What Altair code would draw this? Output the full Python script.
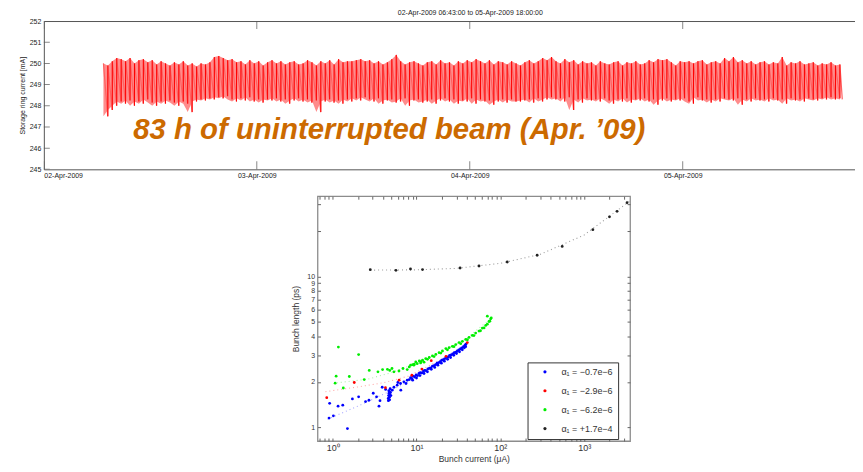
import altair as alt
import pandas as pd

FONT = "Liberation Sans"

# ---------------- top panel: storage ring current ----------------
top_title = "02-Apr-2009 06:43:00 to 05-Apr-2009 18:00:00"
top_y_title = "Storage ring current [mA]"
run_start = "2009-04-02 06:43:00"
run_end = "2009-04-05 18:00:00"
sample_step = "30min"

peak_mA = [
    250.0, 249.9, 250.1, 250.25, 250.2, 250.1, 250.25, 250.0, 250.15, 250.2,
    250.05, 250.15, 249.95, 250.1, 250.0, 249.9, 250.05, 249.95, 250.1, 249.9,
    250.0, 249.85, 250.0, 249.95, 250.05, 250.3, 250.35, 250.25, 250.15, 250.2,
    250.05, 250.1, 249.95, 250.15, 250.0, 250.1, 249.9, 250.05, 250.15, 250.0,
    250.1, 249.95, 250.05, 250.1, 249.95, 250.0, 250.15, 250.05, 249.9, 250.1,
    250.0, 250.15, 249.95, 250.2, 250.05, 250.1, 250.1, 250.15, 250.2, 250.1,
    250.15, 250.0, 250.1, 249.95, 250.05, 250.2, 250.4, 250.1, 249.95, 250.05,
    250.1, 250.0, 249.9, 250.05, 250.1, 249.95, 250.15, 250.0, 250.05, 249.9,
    250.1, 250.0, 250.15, 250.05, 250.2, 250.1, 250.0, 250.15, 249.95, 250.1,
    250.05, 249.95, 250.1, 250.0, 249.9, 250.05, 250.15, 250.0, 250.1, 250.25,
    250.15, 250.3, 250.1, 250.0, 250.2, 250.05, 250.15, 249.95, 250.1, 250.0,
    250.05, 249.9, 250.1, 250.0, 249.95, 250.05, 250.1, 249.9, 250.05, 250.0,
    250.1, 249.95, 250.0, 250.15, 250.05, 250.2, 250.15, 250.2, 250.05, 249.9,
    250.1, 250.05, 250.1, 250.0, 250.1, 250.15, 249.95, 250.05, 250.1, 250.0,
    250.25, 250.1, 250.3, 250.05, 250.15, 250.0, 250.1, 249.95, 250.05, 250.1,
    249.95, 250.05, 250.0, 250.3, 249.9, 250.05, 250.0, 250.1, 249.95, 250.0,
    250.05, 249.9, 250.0, 249.95, 250.05, 249.9, 249.95,
]
trough_mA = [
    247.5, 247.8, 248.0, 248.2, 248.1, 248.25, 248.0, 248.2, 248.1, 248.3,
    248.15, 248.0, 248.2, 248.1, 248.25, 248.15, 248.0, 248.2, 248.1, 247.7,
    248.2, 248.3, 248.25, 248.35, 248.3, 248.4, 248.35, 248.45, 248.3, 248.2,
    248.35, 248.25, 248.4, 248.2, 248.3, 248.15, 248.3, 248.25, 248.35, 248.2,
    248.3, 248.1, 248.25, 248.35, 248.2, 248.3, 248.15, 248.25, 247.7, 248.2,
    248.3, 248.15, 248.25, 248.1, 248.3, 248.2, 248.35, 248.25, 248.4, 248.3,
    248.2, 248.35, 248.1, 248.25, 248.3, 248.15, 248.2, 248.35, 248.0, 248.25,
    248.3, 248.15, 248.2, 248.3, 248.1, 248.25, 248.35, 248.2, 248.3, 248.1,
    248.25, 248.2, 248.35, 248.1, 248.3, 248.2, 248.25, 248.05, 248.2, 248.3,
    248.15, 248.3, 248.2, 248.2, 248.25, 248.3, 248.15, 248.35, 248.2, 248.3,
    248.4, 248.3, 248.35, 248.2, 248.4, 247.8, 248.3, 248.15, 248.35, 248.25,
    248.3, 248.2, 248.35, 248.25, 248.1, 248.3, 248.2, 248.35, 248.15, 248.3,
    248.25, 248.35, 248.2, 248.3, 248.05, 248.25, 248.35, 248.2, 248.3, 248.25,
    248.35, 248.2, 248.1, 248.4, 248.25, 248.3, 248.15, 248.3, 248.2, 248.35,
    248.3, 248.25, 248.35, 248.05, 248.3, 248.2, 248.35, 248.25, 248.3, 248.2,
    248.35, 248.25, 248.3, 248.1, 248.35, 248.25, 248.3, 248.2, 248.35, 248.3,
    248.25, 248.35, 248.3, 248.4, 248.3, 248.35, 248.3,
]

day_ticks = ["2009-04-02 00:00", "2009-04-03 00:00", "2009-04-04 00:00", "2009-04-05 00:00"]
axis_start = "2009-04-02 00:00"
axis_end = "2009-04-05 19:25"
mA_ticks = [245, 246, 247, 248, 249, 250, 251, 252]
note_text = "83 h of uninterrupted beam (Apr. \u201909)"
note_time = "2009-04-02 10:04"
note_mA = 246.41

# ---------------- bottom panel: bunch length vs current ----------------
series_labels = ["\u03b1\u2081 = \u22120.7e\u22126", "\u03b1\u2081 = \u22122.9e\u22126",
                 "\u03b1\u2081 = \u22126.2e\u22126", "\u03b1\u2081 = +1.7e\u22124"]
series_colors = ["#0000ff", "#ff0000", "#00ee00", "#222222"]
fit_colors = ["#a8a8ff", "#ffa8a8", "#a8f0a8", "#9a9a9a"]

blue_x = [0.92, 0.906, 1.02, 1.16, 1.32, 1.50, 1.72, 2.04, 2.47, 2.71, 3.05, 3.34, 3.57, 3.67, 3.90, 4.28,
          4.60, 4.65, 4.70, 4.72, 4.75, 4.80, 4.68, 4.85, 4.62, 4.90, 4.78, 4.95,
          5.13, 5.38, 5.88, 6.0, 6.45, 6.5, 7.07, 7.5, 7.75,
          8.2, 8.5, 8.8, 9.1, 9.5, 9.9, 10.3, 10.7, 11.1, 11.6, 12.1, 12.6, 13.1, 13.7, 14.3, 14.9,
          15.5, 16.2, 16.9, 17.6, 18.4, 19.2, 20.0, 20.9, 21.8, 22.8, 23.8, 24.8, 25.9, 27.0, 28.2,
          29.4, 30.7, 32.0, 33.4, 34.8, 36.3, 37.8, 38.8,
          9.0, 10.0, 11.0, 12.3, 13.5, 15.0, 16.5, 18.0, 19.8, 21.5, 23.5, 25.5, 27.8, 30.0, 32.6,
          35.2, 37.2, 38.6]
blue_y = [1.44, 1.15, 1.19, 1.38, 1.40, 0.98, 1.54, 1.59, 1.48, 1.51, 1.68, 1.59, 1.38, 1.50, 1.84, 1.78,
          1.55, 1.62, 1.68, 1.72, 1.58, 1.65, 1.75, 1.80, 1.50, 1.70, 1.52, 1.62,
          1.76, 1.84, 1.90, 1.98, 1.95, 1.76, 2.0, 1.95, 2.05,
          2.07, 2.13, 2.10, 2.18, 2.16, 2.22, 2.20, 2.27, 2.30, 2.29, 2.36, 2.38, 2.37, 2.44, 2.46, 2.47,
          2.54, 2.56, 2.60, 2.66, 2.68, 2.72, 2.78, 2.80, 2.85, 2.90, 2.92, 2.99, 3.02, 3.06, 3.12,
          3.14, 3.20, 3.25, 3.30, 3.36, 3.42, 3.48, 3.55,
          2.05, 2.12, 2.2, 2.27, 2.33, 2.42, 2.49, 2.58, 2.66, 2.74, 2.82, 2.9, 3.0, 3.08, 3.16,
          3.26, 3.36, 3.42]
red_x = [0.85, 1.81, 4.26, 6.2, 8.8, 11.6, 15.0, 22.5, 40.4]
red_y = [1.57, 1.98, 1.83, 2.05, 2.21, 2.43, 2.76, 2.95, 3.64]
green_x = [1.17, 2.04, 1.10, 1.07, 1.34, 1.58, 2.38, 2.73, 3.47, 3.94, 4.5, 4.8, 5.1, 5.38, 6.18, 6.9, 7.75,
           8.2, 8.5, 9.0, 9.3, 9.8, 10.2, 10.8, 11.2, 11.8, 12.3, 12.9, 14.2, 15.5, 17.0, 18.6, 20.4,
           22.4, 24.5, 26.8, 29.4, 32.2, 35.3, 38.7, 42.4, 46.4, 50.8, 55.7, 61.1, 67.0, 73.3, 76.8, 70.0,
           9.4, 11.3, 13.5, 16.2, 19.5, 23.4, 28.0, 33.7, 40.5, 48.5, 58.0, 64.0, 70.0, 75.0, 78.0]
green_y = [3.40, 3.03, 2.18, 1.96, 1.82, 2.17, 2.07, 2.38, 2.33, 2.41, 2.42, 2.38, 2.45, 2.33, 2.36, 2.45, 2.41,
           2.51, 2.58, 2.60, 2.58, 2.71, 2.64, 2.75, 2.67, 2.78, 2.70, 2.85, 2.90, 2.97, 3.04, 3.12, 3.20,
           3.32, 3.37, 3.44, 3.53, 3.64, 3.71, 3.82, 3.94, 4.06, 4.21, 4.34, 4.54, 4.73, 5.02, 5.23, 5.45,
           2.62, 2.72, 2.82, 2.94, 3.10, 3.26, 3.42, 3.58, 3.80, 4.05, 4.36, 4.55, 4.82, 5.05, 5.30]
black_x = [2.81, 5.69, 8.48, 11.8, 33.1, 55.7, 121, 275, 547, 1270, 2005, 2470, 3250]
black_y = [11.07, 10.96, 11.19, 11.1, 11.36, 11.72, 12.45, 13.8, 15.8, 20.4, 24.8, 27.0, 30.8]

blue_fit_x = [0.87, 2, 5, 10, 20, 38]
blue_fit_y = [1.13, 1.38, 1.75, 2.15, 2.72, 3.45]
red_fit_x = [0.82, 2, 4, 8, 15, 25, 40]
red_fit_y = [1.72, 1.85, 1.97, 2.18, 2.6, 3.0, 3.6]
green_fit_x = [1.12, 2.6, 5, 10, 20, 40, 77]
green_fit_y = [1.97, 2.08, 2.3, 2.65, 3.15, 3.9, 5.25]
black_fit_x = [2.8, 10, 30, 100, 300, 1000, 3500]
black_fit_y = [11.0, 11.05, 11.3, 12.2, 14.0, 18.8, 31.5]

x_domain = [0.66, 3530]
y_domain = [0.81, 34]
x_tick_values = [0.7, 0.8, 0.9, 1, 2, 3, 4, 5, 6, 7, 8, 9, 10, 20, 30, 40, 50, 60, 70, 80, 90,
                 100, 200, 300, 400, 500, 600, 700, 800, 900, 1000, 2000, 3000]
x_label_values = [1, 10, 100, 1000]
x_label_texts = ["10\u2070", "10\u00b9", "10\u00b2", "10\u00b3"]
y_tick_values = [1, 2, 3, 4, 5, 6, 7, 8, 9, 10, 20, 30]
y_label_max = 10
x_title = "Bunch current (\u03bcA)"
y_title = "Bunch length (ps)"


# ---------------- build tables ----------------
def iso(ts):
    return pd.Timestamp(ts).strftime("%Y-%m-%dT%H:%M:%SZ")


def dt(s):
    t = pd.Timestamp(s)
    return alt.DateTime(year=t.year, month=t.month, date=t.day, hours=t.hour, minutes=t.minute, utc=True)


n = min(len(peak_mA), len(trough_mA))
times = pd.date_range(run_start, periods=n, freq=sample_step)
end_t = pd.Timestamp(run_end)
saw_rows, jump_rows, band_rows = [], [], []
for i in range(n):
    t0 = times[i]
    t1 = times[i + 1] if i + 1 < n else end_t
    saw_rows.append({"t": iso(t0), "mA": peak_mA[i], "k": 2 * i})
    saw_rows.append({"t": iso(t1 - pd.Timedelta(minutes=1)), "mA": trough_mA[i], "k": 2 * i + 1})
    band_rows.append({"t": iso(t0), "lo": trough_mA[i], "hi": peak_mA[i]})
    if i > 0:
        jump_rows.append({"t": iso(t0), "lo": trough_mA[i - 1], "hi": peak_mA[i]})
saw_df = pd.DataFrame(saw_rows)
jump_df = pd.DataFrame(jump_rows)
band_df = pd.DataFrame(band_rows)
note_df = pd.DataFrame({"t": [iso(note_time)], "v": [note_mA], "label": [note_text]})
xtick_df = pd.DataFrame([{"d": iso(d), "v": v} for d in day_ticks for v in (mA_ticks[0], mA_ticks[-1])])
ytick_df = pd.DataFrame({"d": [iso(axis_start)] * len(mA_ticks), "v": mA_ticks})

x_scale_top = alt.Scale(type="utc", domain=[dt(axis_start), dt(axis_end)], nice=False)
y_scale_top = alt.Scale(domain=[mA_ticks[0], mA_ticks[-1]], nice=False)

x_axis_bottom = alt.Axis(values=[dt(d) for d in day_ticks], format="%d-%b-%Y", tickSize=0,
                         labelFontSize=7, labelPadding=2, labelColor="#222", domainColor="#555",
                         title=None, grid=False, labelFont=FONT)
x_axis_top = alt.Axis(orient="top", labels=False, ticks=False, domain=True, domainColor="#555",
                      title=None, grid=False)
y_axis_top = alt.Axis(title=top_y_title, values=mA_ticks, format="d", tickSize=0, labelFontSize=7,
                      titleFontSize=7, labelPadding=3, titlePadding=4, labelColor="#222",
                      titleColor="#222", titleFontWeight="normal", domainColor="#555", grid=False,
                      labelFont=FONT, titleFont=FONT)

band = alt.Chart(band_df).mark_area(color="#ff8c8c", opacity=1, clip=True).encode(
    x=alt.X("t:T", scale=x_scale_top, axis=x_axis_bottom),
    y=alt.Y("lo:Q", scale=y_scale_top, axis=y_axis_top),
    y2="hi:Q",
)
saw = alt.Chart(saw_df).mark_line(color="#ff6060", strokeWidth=1.2, clip=True).encode(
    x=alt.X("t:T", axis=None),
    y=alt.Y("mA:Q", axis=y_axis_top),
    order="k:Q",
)
jumps = alt.Chart(jump_df).mark_rule(color="#ff0000", strokeWidth=1).encode(
    x=alt.X("t:T", axis=None),
    y=alt.Y("lo:Q", axis=y_axis_top),
    y2="hi:Q",
)
note = alt.Chart(note_df).mark_text(font=FONT, fontSize=29.5, fontWeight="bold", fontStyle="italic",
                                    color="#cc6a00", align="left", baseline="alphabetic").encode(
    x=alt.X("t:T", axis=None),
    y=alt.Y("v:Q", axis=y_axis_top),
    text="label:N",
)
xticks = alt.Chart(xtick_df).mark_tick(orient="vertical", size=16, thickness=1, color="#555", clip=True).encode(
    x=alt.X("d:T", axis=x_axis_top),
    y=alt.Y("v:Q", axis=y_axis_top),
)
yticks = alt.Chart(ytick_df).mark_tick(orient="horizontal", size=12, thickness=1, color="#555", clip=True).encode(
    x=alt.X("d:T", axis=None),
    y=alt.Y("v:Q", axis=y_axis_top),
)

top = alt.layer(band, saw, jumps, note, xticks, yticks).resolve_axis(x="independent").properties(
    width=815, height=149,
    view=alt.ViewBackground(stroke=None),
    title=alt.TitleParams(top_title, fontSize=7, font=FONT, fontWeight="normal", color="#222",
                          offset=1, dx=21, anchor="middle"),
)

# scatter tables
pts = []
for lab, xs_, ys_ in zip(series_labels, [blue_x, red_x, green_x, black_x], [blue_y, red_y, green_y, black_y]):
    for a, b in zip(xs_, ys_):
        pts.append({"x": a, "y": b, "series": lab})
pts_df = pd.DataFrame(pts)
fits = []
for lab, lc, xs_, ys_ in zip(series_labels, fit_colors,
                             [blue_fit_x, red_fit_x, green_fit_x, black_fit_x],
                             [blue_fit_y, red_fit_y, green_fit_y, black_fit_y]):
    for a, b in zip(xs_, ys_):
        fits.append({"x": a, "y": b, "series": lab, "lc": lc})
fit_df = pd.DataFrame(fits)

x_label_expr = " : ".join(f"datum.value == {v} ? '{t}'" for v, t in zip(x_label_values, x_label_texts)) + " : ''"
y_label_expr = f"datum.value <= {y_label_max} ? datum.label : ''"

xs = alt.Scale(type="log", domain=x_domain, nice=False)
ys = alt.Scale(type="log", domain=y_domain, nice=False)

common_axis = dict(offset=-3, tickSize=3, domain=False, grid=False, tickColor="#666",
                   labelColor="#333", titleColor="#333", labelOverlap=False, labelFlush=False,
                   titleFontWeight="normal", labelFont=FONT, titleFont=FONT)
x_axis_b = alt.Axis(values=x_tick_values, labelExpr=x_label_expr, title=x_title, labelFontSize=9,
                    titleFontSize=8.5, labelPadding=3, titlePadding=2, **common_axis)
y_axis_l = alt.Axis(values=y_tick_values, labelExpr=y_label_expr, format="d", title=y_title,
                    labelFontSize=7, titleFontSize=8.5, labelPadding=3, titlePadding=6, **common_axis)
x_axis_t = alt.Axis(orient="top", values=x_tick_values, labels=False, title=None, **common_axis)
y_axis_r = alt.Axis(orient="right", values=y_tick_values, labels=False, title=None, **common_axis)

fit_layer = alt.Chart(fit_df).mark_line(strokeDash=[1, 3], strokeWidth=1.1).encode(
    x=alt.X("x:Q", scale=xs, axis=x_axis_b),
    y=alt.Y("y:Q", scale=ys, axis=y_axis_l),
    stroke=alt.Stroke("lc:N", scale=None),
    detail="series:N",
)
pt_layer = alt.Chart(pts_df).mark_circle(size=8, opacity=1).encode(
    x=alt.X("x:Q", scale=xs, axis=None),
    y=alt.Y("y:Q", scale=ys, axis=None),
    color=alt.Color("series:N", scale=alt.Scale(domain=series_labels, range=series_colors),
                    legend=alt.Legend(title=None, orient="none", legendX=486, legendY=343,
                                      strokeColor="#333", fillColor="white", padding=5,
                                      labelFontSize=9, labelFont=FONT, labelColor="#333",
                                      symbolType="circle", symbolSize=10, rowPadding=9,
                                      labelOffset=12, symbolOffset=8)),
)
frame_layer = alt.Chart(pts_df).mark_circle(opacity=0).encode(
    x=alt.X("x:Q", scale=xs, axis=x_axis_t),
    y=alt.Y("y:Q", scale=ys, axis=y_axis_r),
)
scatter = alt.layer(fit_layer, pt_layer, frame_layer).resolve_axis(x="independent", y="independent").properties(
    width=314, height=246,
    view=alt.ViewBackground(stroke="#8c8c8c", strokeWidth=1.3),
)

spacer = alt.Chart(pd.DataFrame({"a": [0]})).mark_point(opacity=0).encode(
    x=alt.X("a:Q", axis=None), y=alt.Y("a:Q", axis=None)
).properties(width=265, height=246, view=alt.ViewBackground(stroke=None))

bottom = alt.hconcat(spacer, scatter, spacing=10, bounds="flush")
chart = alt.vconcat(top, bottom, spacing=27, bounds="flush").properties(
    padding={"left": 10, "top": 0, "right": 0, "bottom": 0}
).configure(font=FONT).configure_view(stroke=None)

chart.save("out.html", embed_options={"renderer": "svg", "actions": False})
